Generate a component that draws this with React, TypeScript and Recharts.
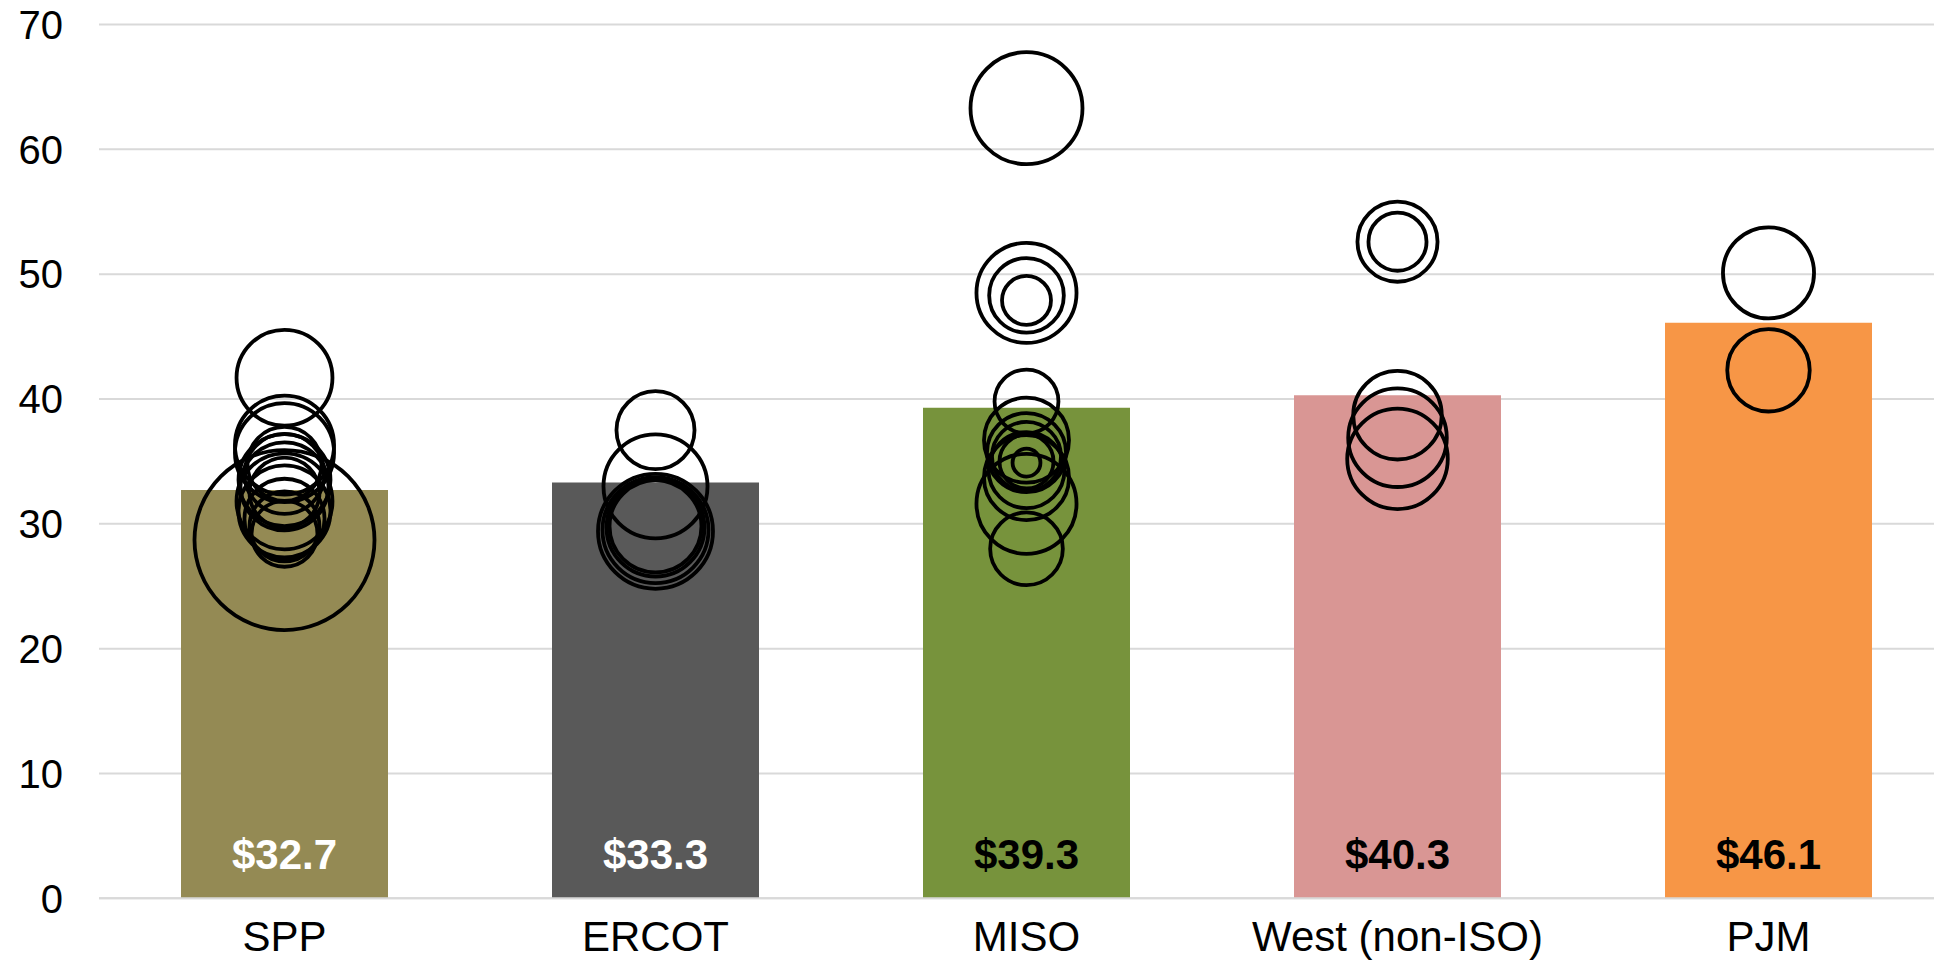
import {
  Bar,
  CartesianGrid,
  Cell,
  ComposedChart,
  LabelList,
  Scatter,
  XAxis,
  YAxis,
  ZAxis,
} from 'recharts';

const regions = ['SPP', 'ERCOT', 'MISO', 'West (non-ISO)', 'PJM'];
const averagePrices = [32.7, 33.3, 39.3, 40.3, 46.1];

// individual project prices ($/MWh) and relative project size, per region
const sppPrices = [41.7, 36.3, 35.7, 34.8, 34.0, 33.5, 33.0, 32.5, 31.8, 31.0, 30.4, 29.8, 29.2, 28.7];
const sppSizes = [28.4, 30.3, 30.3, 16.9, 19.8, 26.1, 23.9, 15.1, 28.4, 26.1, 19.8, 15.1, 13.4, 100];
const ercotPrices = [37.5, 33.0, 29.4, 29.5, 29.7, 29.8];
const ercotSizes = [18.8, 33.4, 40.8, 34.7, 29.6, 26.1];
const misoPrices = [63.3, 48.5, 48.3, 47.9, 39.8, 36.7, 35.7, 35.4, 35.0, 34.9, 34.3, 33.7, 31.6, 28.0];
const misoSizes = [38.7, 30.9, 17.2, 7.4, 12.6, 22.3, 19.3, 14.7, 9.0, 2.4, 17.8, 22.3, 30.9, 16.3];
const westPrices = [52.6, 52.6, 38.7, 36.9, 35.2];
const westSizes = [19.8, 10.4, 24.2, 30.0, 31.2];
const pjmPrices = [50.1, 42.3];
const pjmSizes = [25.6, 21.0];

const yTicks = [0, 10, 20, 30, 40, 50, 60, 70];

const barColors = ['#948A54', '#595959', '#77933C', '#D99694', '#F79646'];
const labelColors = ['#FFFFFF', '#FFFFFF', '#000000', '#000000', '#000000'];

const FONT = '"Liberation Sans", Arial, sans-serif';

const barData = regions.map((name, i) => ({ x: i, name, avg: averagePrices[i] }));

const priceGroups = [sppPrices, ercotPrices, misoPrices, westPrices, pjmPrices];
const sizeGroups = [sppSizes, ercotSizes, misoSizes, westSizes, pjmSizes];
const bubbles = priceGroups.flatMap((prices, i) =>
  prices.map((price, j) => ({ x: i, price, size: sizeGroups[i][j] })),
);

const ValueLabel = (props: any) => {
  const { x, y, width, height, value } = props;
  const idx = props.index ?? averagePrices.indexOf(value);
  return (
    <text
      x={Number(x) + Number(width) / 2}
      y={Number(y) + Number(height) - 29}
      textAnchor="middle"
      fill={labelColors[idx]}
      fontSize={42}
      fontWeight="bold"
      fontFamily={FONT}
    >
      ${Number(value).toFixed(1)}
    </text>
  );
};

// hollow bubble; size from ZAxis is an area in px²
const Bubble = (props: any) => {
  const { cx, cy, size } = props;
  if (cx == null || cy == null) return null;
  const r = Math.sqrt((size ?? 0) / Math.PI);
  return <circle cx={cx} cy={cy} r={r} fill="none" stroke="#000" strokeWidth={3.8} />;
};

export default function App() {
  return (
    <div
      style={{
        position: 'absolute',
        left: 0,
        top: 0,
        width: 1934,
        height: 960,
        overflow: 'hidden',
        background: '#fff',
      }}
    >
      <ComposedChart
        width={1960}
        height={960}
        data={barData}
        margin={{ top: 24.5, right: 6, bottom: 0, left: 0 }}
      >
        <CartesianGrid vertical={false} stroke="#D9D9D9" strokeWidth={2} />
        <XAxis
          type="number"
          dataKey="x"
          domain={[-0.5, 4.5]}
          ticks={[0, 1, 2, 3, 4]}
          tickFormatter={(v: number) => regions[v] ?? ''}
          height={61.7}
          tickLine={false}
          tickSize={0}
          tickMargin={22.6}
          axisLine={{ stroke: '#D9D9D9', strokeWidth: 2 }}
          tick={{ fill: '#000', fontSize: 42, fontFamily: FONT }}
          interval={0}
        />
        <YAxis
          type="number"
          domain={[0, 70]}
          ticks={yTicks}
          width={99}
          tickLine={false}
          tickSize={0}
          tickMargin={36}
          axisLine={false}
          tick={{ fill: '#000', fontSize: 40, fontFamily: FONT }}
        />
        <ZAxis type="number" dataKey="size" domain={[0, 100]} range={[0, Math.PI * 90 * 90]} />
        <Bar dataKey="avg" barSize={207} isAnimationActive={false}>
          {barData.map((d, i) => (
            <Cell key={d.name} fill={barColors[i]} />
          ))}
          <LabelList dataKey="avg" content={ValueLabel} />
        </Bar>
        <Scatter
          data={bubbles}
          dataKey="price"
          shape={Bubble}
          isAnimationActive={false}
        />
      </ComposedChart>
    </div>
  );
}
